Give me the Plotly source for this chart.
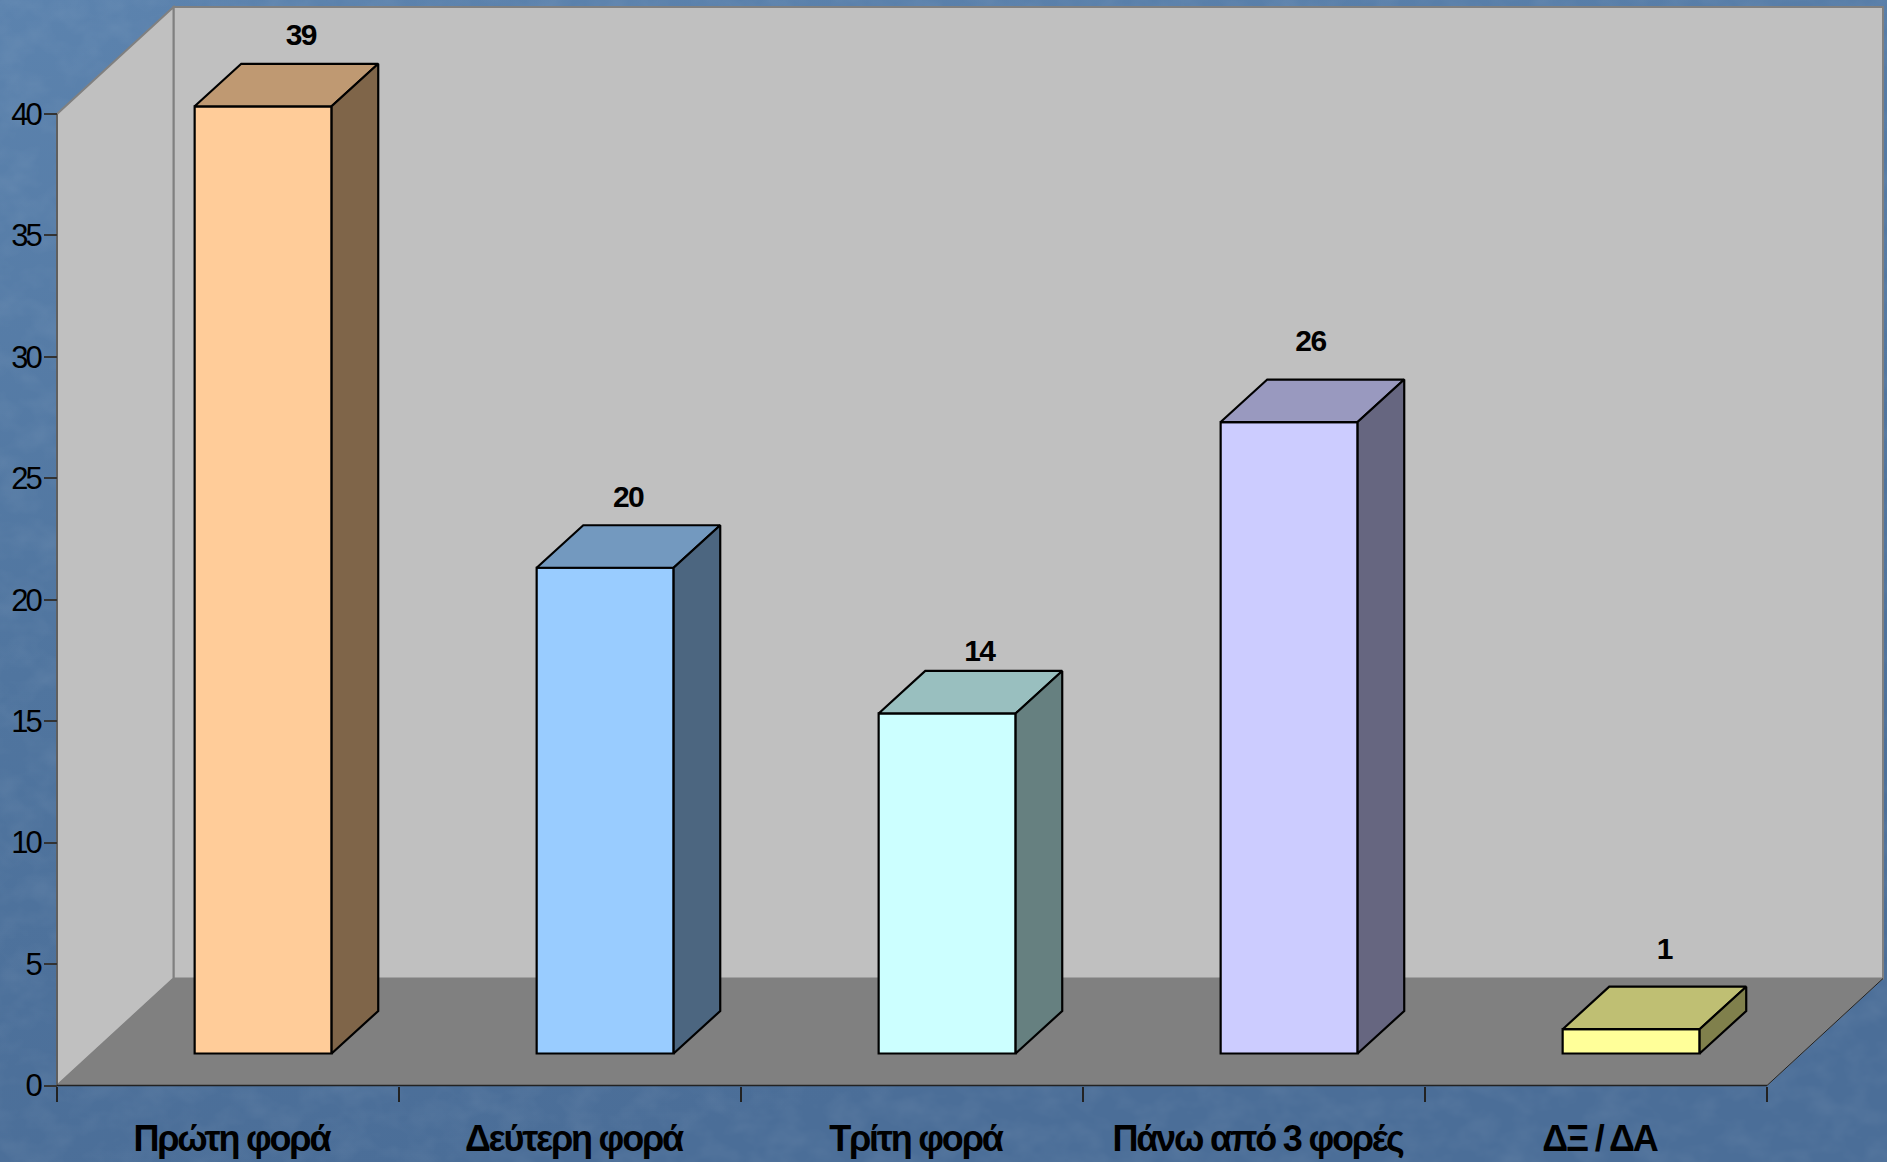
import base64
import plotly.graph_objects as go

# ---- data ----
categories = ["Πρώτη φορά", "Δεύτερη φορά", "Τρίτη φορά", "Πάνω από 3 φορές", "ΔΞ / ΔΑ"]
values = [39, 20, 14, 26, 1]
y_ticks = [0, 5, 10, 15, 20, 25, 30, 35, 40]

front_colors = ["#FFCC99", "#99CCFF", "#CCFFFF", "#CCCCFF", "#FFFF99"]
top_colors = ["#BF9972", "#7399BF", "#99BFBF", "#9999BF", "#BFBF73"]
side_colors = ["#7F6549", "#4C6680", "#668080", "#666680", "#80804C"]

# ---- geometry of the pseudo 3D box, in axis units ----
W, H = 1887, 1162
X0_PX, X5_PX = 57.0, 1767.0
Y0_PX, Y40_PX = 1085.5, 114.0
ux = (X5_PX - X0_PX) / 5
uy = (Y0_PX - Y40_PX) / 40

WALL_DX = 116.5 / ux       # depth of the whole chart box
WALL_DY_BOTTOM = 107.0 / uy
WALL_DY_TOP = 107.0 / uy
BACK_TOP = (Y0_PX - 7.0) / uy
RIGHT_END = (1883.0 - X0_PX) / ux

BAR_LEFT = 0.4025
BAR_W = 0.4005
BAR_BASE = 32.0 / uy
BAR_DX = 46.6 / ux
BAR_DY = 42.5 / uy
LABEL_X = [0.713, 0.67, 0.697, 0.665, 0.70]
LABEL_GAP_PX = [26, 26, 17, 36, 35]

AXIS_COLOR = "#222222"
FONT = "Liberation Sans, Arial, sans-serif"

svg = f"""<svg xmlns='http://www.w3.org/2000/svg' width='{W}' height='{H}'>
<defs>
<linearGradient id='g' x1='0' y1='0' x2='0.25' y2='1'>
<stop offset='0' stop-color='#5c83ae'/><stop offset='0.55' stop-color='#50759f'/><stop offset='1' stop-color='#4b6e98'/>
</linearGradient>
<filter id='n' x='0' y='0' width='100%' height='100%'>
<feTurbulence type='fractalNoise' baseFrequency='0.03 0.04' numOctaves='3' seed='7'/>
<feColorMatrix values='0 0 0 0 1  0 0 0 0 1  0 0 0 0 1  1.1 0 0 0 -0.42'/>
</filter>
</defs>
<rect width='100%' height='100%' fill='url(#g)'/>
<rect width='100%' height='100%' filter='url(#n)' opacity='0.1'/>
</svg>"""
bg_uri = "data:image/svg+xml;base64," + base64.b64encode(svg.encode()).decode()

fig = go.Figure()


def poly(xs, ys, fill, line_color="#000000", line_width=2):
    path = "M " + " L ".join(f"{x},{y}" for x, y in zip(xs, ys)) + " Z"
    return dict(type="path", path=path, xref="x", yref="y", layer="below",
                fillcolor=fill, line=dict(color=line_color, width=line_width))


n = len(categories)
shapes = [
    # back wall
    poly([WALL_DX, RIGHT_END, RIGHT_END, WALL_DX],
         [WALL_DY_BOTTOM, WALL_DY_BOTTOM, BACK_TOP, BACK_TOP], "#C0C0C0", "#808080", 2),
    # left wall
    poly([0, WALL_DX, WALL_DX, 0], [0, WALL_DY_BOTTOM, BACK_TOP, 40], "#C0C0C0", "#808080", 2),
    # floor
    poly([0, WALL_DX, RIGHT_END, n], [0, WALL_DY_BOTTOM, WALL_DY_BOTTOM, 0], "#808080", "#808080", 1),
    # axis lines and right floor edge
    dict(type="line", xref="x", yref="y", x0=0, x1=0, y0=0, y1=40, layer="below",
         line=dict(color="#555555", width=1.5)),
    dict(type="line", xref="x", yref="y", x0=0, x1=n, y0=0, y1=0, layer="below",
         line=dict(color=AXIS_COLOR, width=1.5)),
    dict(type="line", xref="x", yref="y", x0=n, x1=RIGHT_END, y0=0, y1=WALL_DY_BOTTOM, layer="below",
         line=dict(color=AXIS_COLOR, width=1)),
]

# Front faces: real bars
fig.add_trace(go.Bar(
    x=[i + BAR_LEFT + BAR_W / 2 for i in range(n)],
    y=values,
    base=[BAR_BASE] * n,
    width=BAR_W,
    marker=dict(color=front_colors, line=dict(color="#000000", width=2.2)),
    showlegend=False,
    hoverinfo="skip",
))

# Top and side faces derived from the values
for i, v in enumerate(values):
    xl = i + BAR_LEFT
    xr = xl + BAR_W
    yb = BAR_BASE
    yt = BAR_BASE + v
    fig.add_trace(go.Scatter(
        x=[xl, xl + BAR_DX, xr + BAR_DX, xr, xl],
        y=[yt, yt + BAR_DY, yt + BAR_DY, yt, yt],
        mode="lines", fill="toself", fillcolor=top_colors[i],
        line=dict(color="#000000", width=2.2), showlegend=False, hoverinfo="skip"))
    fig.add_trace(go.Scatter(
        x=[xr, xr + BAR_DX, xr + BAR_DX, xr, xr],
        y=[yb, yb + BAR_DY, yt + BAR_DY, yt, yb],
        mode="lines", fill="toself", fillcolor=side_colors[i],
        line=dict(color="#000000", width=2.2), showlegend=False, hoverinfo="skip"))

# Data labels
fig.add_trace(go.Scatter(
    x=[i + LABEL_X[i] for i in range(n)],
    y=[BAR_BASE + v + BAR_DY + LABEL_GAP_PX[i] / uy for i, v in enumerate(values)],
    mode="text",
    text=[str(v) for v in values],
    textposition="middle center",
    textfont=dict(family=FONT, size=30, color="#000000", weight="bold"),
    showlegend=False, hoverinfo="skip",
))

fig.update_layout(
    width=W, height=H,
    margin=dict(l=0, r=0, t=0, b=0),
    paper_bgcolor="#50759f",
    plot_bgcolor="rgba(0,0,0,0)",
    showlegend=False,
    shapes=shapes,
    images=[dict(source=bg_uri, xref="paper", yref="paper", x=0, y=1, sizex=1, sizey=1,
                 xanchor="left", yanchor="top", sizing="stretch", layer="below")],
    xaxis=dict(
        domain=[0, 1],
        range=[-X0_PX / ux, (W - X0_PX) / ux],
        anchor="free", position=(H - Y0_PX) / H,
        showgrid=False, zeroline=False, showline=False,
        tickmode="array",
        tickvals=[i + 0.5 + 0.01 for i in range(n)],
        ticktext=categories,
        ticks="", ticklen=0,
        ticklabelstandoff=28,
        tickfont=dict(family=FONT, size=36, color="#000000", weight="bold"),
        minor=dict(tickmode="array", tickvals=list(range(n + 1)), ticks="outside",
                   ticklen=15, tickwidth=1.5, tickcolor=AXIS_COLOR, showgrid=False),
    ),
    yaxis=dict(
        domain=[0, 1],
        range=[-(H - Y0_PX) / uy, Y0_PX / uy],
        anchor="free", position=X0_PX / W,
        showgrid=False, zeroline=False, showline=False,
        tickmode="array", tickvals=y_ticks, ticktext=[str(t) for t in y_ticks],
        ticks="outside", ticklen=13, tickwidth=1.5, tickcolor="#333333",
        ticklabelstandoff=-2,
        tickfont=dict(family=FONT, size=31, color="#000000"),
    ),
)

post = """
document.body.style.margin='0';
var st=document.createElement('style');
st.textContent='.xtick text{letter-spacing:-2.2px} .ytick text{letter-spacing:-3px} .textpoint text{letter-spacing:-1.5px}';
document.head.appendChild(st);
"""
fig.write_html("out.html", post_script=post, config=dict(displayModeBar=False))
